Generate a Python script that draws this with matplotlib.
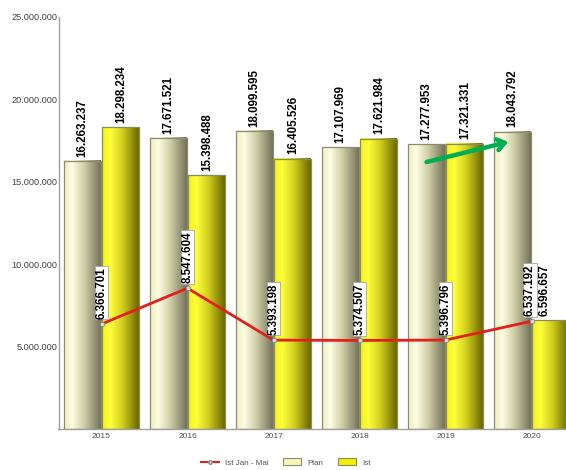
import numpy as np
import matplotlib
matplotlib.use('Agg')
import matplotlib.pyplot as plt
from matplotlib.colors import LinearSegmentedColormap
from matplotlib.lines import Line2D
from matplotlib.patches import Patch

plt.rcParams['font.family'] = ['Liberation Sans', 'DejaVu Sans']

years = ['2015', '2016', '2017', '2018', '2019', '2020']
plan = [16263237, 17671521, 18099595, 17107969, 17277953, 18043792]
ist = [18298234, 15398488, 16405526, 17621984, 17321331, 6596657]
ist_jan_mai = [6366701, 8547604, 5393198, 5374507, 5396796, 6537192]
yticks = [5000000, 10000000, 15000000, 20000000, 25000000]


def fmt(v):
    return f"{v:,}".replace(',', '.')


plan_cmap = LinearSegmentedColormap.from_list(
    'plan', [(0, '#eeeec4'), (0.22, '#fdfde2'), (0.55, '#cfcea6'), (1, '#74735a')])
ist_cmap = LinearSegmentedColormap.from_list(
    'ist', [(0, '#f2f21c'), (0.22, '#ffff3c'), (0.55, '#d2cf1e'), (1, '#6b6700')])

fig = plt.figure(figsize=(5.66, 4.70), dpi=100)
ax = fig.add_axes([58.5 / 566, 41 / 470, 516 / 566, 412 / 470])

x = np.arange(len(years))
w = 0.43
off = 0.225
grad = np.linspace(0, 1, 64).reshape(1, -1)

bars_plan = ax.bar(x - off, plan, w, facecolor='none', edgecolor='#8c8b72', lw=0.9, zorder=3)
bars_ist = ax.bar(x + off, ist, w, facecolor='none', edgecolor='#8c8b60', lw=0.9, zorder=3)

for bars, cmap in ((bars_plan, plan_cmap), (bars_ist, ist_cmap)):
    for r in bars:
        x0, y0 = r.get_x(), r.get_y()
        ax.imshow(grad, extent=[x0, x0 + r.get_width(), y0, y0 + r.get_height()],
                  aspect='auto', cmap=cmap, zorder=2, interpolation='bicubic')

ax.plot(x, ist_jan_mai, color='#e3201b', lw=2, marker='o', ms=3.2,
        mfc='#d8d8d8', mec='#8a8a8a', mew=0.6, zorder=5)

for i, v in enumerate(plan):
    ax.annotate(fmt(v), (x[i] - off, v), xytext=(0, 3), textcoords='offset points',
                rotation=90, ha='center', va='bottom', fontsize=8.3, fontweight='bold', zorder=6)
for i, v in enumerate(ist):
    dx = -4.5 if i == len(ist) - 1 else 0
    ax.annotate(fmt(v), (x[i] + off, v), xytext=(dx, 3), textcoords='offset points',
                rotation=90, ha='center', va='bottom', fontsize=8.3, fontweight='bold', zorder=6)
for i, v in enumerate(ist_jan_mai):
    dx = -1.2 if i == len(ist_jan_mai) - 1 else 0
    ax.annotate(fmt(v), (x[i], v), xytext=(dx, 4), textcoords='offset points',
                rotation=90, ha='center', va='bottom', fontsize=8.3, fontweight='bold', zorder=7,
                bbox=dict(boxstyle='square,pad=0.08', fc='white', ec='#a8a8a8', lw=0.6))

ax.annotate('', xy=(4.73, 17.42e6), xytext=(3.78, 16.2e6),
            arrowprops=dict(arrowstyle='->,head_length=0.55,head_width=0.4',
                            color='#00b050', lw=3.2, shrinkA=0, shrinkB=0), zorder=8)

ax.set_xlim(-0.5, 5.5)
ax.set_ylim(0, 25000000)
ax.set_xticks(x)
ax.set_xticklabels(years, fontsize=6, color='#505050')
ax.set_yticks(yticks)
ax.set_yticklabels([fmt(v) for v in yticks], fontsize=6.6, color='#404040')
ax.tick_params(axis='x', length=0, pad=3)
ax.tick_params(axis='y', length=0, pad=1)
for s in ('top', 'right'):
    ax.spines[s].set_visible(False)
for s in ('left', 'bottom'):
    ax.spines[s].set_color('#a0a0a0')
    ax.spines[s].set_linewidth(1)

handles = [
    Line2D([], [], color='#e3201b', lw=1.5, marker='o', ms=2.5, mfc='#d8d8d8', mec='#8a8a8a'),
    Patch(facecolor='#f7f7b8', edgecolor='#8c8b72', lw=0.8),
    Patch(facecolor='#f0f000', edgecolor='#8c8b60', lw=0.8),
]
fig.legend(handles, ['Ist Jan - Mai', 'Plan', 'Ist'], loc='center', ncol=3,
           bbox_to_anchor=(0.505, 7.5 / 470), frameon=False, fontsize=5.8,
           handlelength=2.2, handleheight=0.9, columnspacing=1.8, labelcolor='#505050')

fig.savefig('out.png', dpi=100)
